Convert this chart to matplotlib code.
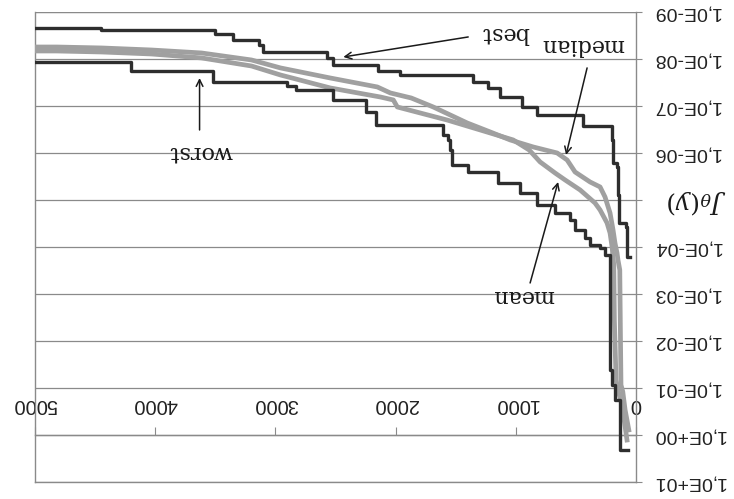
import matplotlib
matplotlib.use("Agg")
import matplotlib.pyplot as plt
from matplotlib.ticker import FixedLocator, NullLocator

plt.rcParams['mathtext.fontset'] = 'dejavuserif'

# ---------------- data ----------------
best_iter = [50, 75, 83, 140, 150, 160, 195, 200, 440, 823, 947, 1130, 1230, 1355,
             1960, 2150, 2520, 2570, 3100, 3140, 3350, 3500, 4455, 5000]
best_J = [1.63e-4, 3.75e-5, 3.08e-5, 7.8e-6, 1.99e-6, 1.63e-6, 5.28e-7, 2.67e-7, 1.55e-7,
          1.05e-7, 6.44e-8, 4.14e-8, 3.08e-8, 2.19e-8, 1.80e-8, 1.34e-8, 9.5e-9, 7.1e-9,
          5.04e-9, 3.94e-9, 2.94e-9, 2.42e-9, 2.16e-9, 2.16e-9]

worst_iter = [70, 133, 175, 200, 215, 220, 258, 300, 380, 425, 507, 550, 673, 823, 964,
              1147, 1396, 1530, 1545, 1563, 1603, 2160, 2243, 2520, 2825, 2900, 3523,
              4205, 5000]
worst_J = [2.08, 0.18, 0.0863, 0.0414, 3.08e-4, 1.48e-4, 1.05e-4, 9.06e-5, 6.44e-5,
           4.35e-5, 2.67e-5, 1.89e-5, 1.28e-5, 7.09e-6, 4.35e-6, 2.54e-6, 1.80e-6,
           8.63e-7, 5.28e-7, 4.14e-7, 2.54e-7, 1.34e-7, 7.45e-8, 4.57e-8, 3.75e-8,
           3.08e-8, 1.80e-8, 1.16e-8, 1.16e-8]

median_iter = [60, 91, 110, 125, 130, 135, 150, 158, 175, 191, 216, 258, 299, 382, 507,
               573, 656, 855, 1047, 1213, 1404, 1687, 1870, 2044, 2152, 2543, 2958, 3199,
               3615, 4030, 4446, 4820, 5000]
median_J = [0.78, 0.29, 0.12, 0.086, 5.8e-3, 3.08e-4, 1.89e-4, 1.34e-4, 8.2e-5, 4.35e-5,
            1.89e-5, 8.6e-6, 5.28e-6, 4.14e-6, 2.54e-6, 1.41e-6, 1.0e-6, 7.45e-7, 5.28e-7,
            3.57e-7, 2.30e-7, 1.05e-7, 6.76e-8, 5.28e-8, 3.94e-8, 2.54e-8, 1.55e-8,
            1.05e-8, 7.45e-9, 6.44e-9, 5.83e-9, 5.56e-9, 5.56e-9]

mean_iter = [75, 116, 150, 166, 180, 185, 199, 216, 241, 299, 341, 465, 590, 673, 798,
             889, 1022, 1296, 1571, 1795, 1986, 2019, 2127, 2543, 2958, 3199, 3615, 4030,
             4446, 4820, 5000]
mean_J = [1.28, 0.23, 0.11, 0.068, 3.57e-3, 2.42e-4, 1.0e-4, 5.04e-5, 3.08e-5, 1.63e-5,
          1.16e-5, 6.12e-6, 3.75e-6, 2.67e-6, 1.55e-6, 8.63e-7, 5.28e-7, 3.24e-7, 1.99e-7,
          1.41e-7, 1.05e-7, 7.45e-8, 6.44e-8, 4.14e-8, 2.19e-8, 1.41e-8, 9.5e-9, 7.83e-9,
          7.1e-9, 6.76e-9, 6.76e-9]

xtick_vals = [0, 1000, 2000, 3000, 4000, 5000]
xtick_labels = ['0', '1000', '2000', '3000', '4000', '5000']
ytick_vals = [1e-9, 1e-8, 1e-7, 1e-6, 1e-5, 1e-4, 1e-3, 1e-2, 1e-1, 1e0, 1e1]
ytick_labels = ['1,0E-09', '1,0E-08', '1,0E-07', '1,0E-06', '', '1,0E-04',
                '1,0E-03', '1,0E-02', '1,0E-01', '1,0E+00', '1,0E+01']
y_label = r'$J_\theta(y)$'

# annotation label, text position, arrow tail, arrow tip (data coords)
annotations = [
    ('best',   (1089, 2.8e-9), (1396, 3.4e-9), (2435, 9.06e-9)),
    ('median', (440, 5.04e-9), (407, 1.55e-8), (582, 1.10e-6)),
    ('mean',   (939, 1.10e-3), (881, 5.83e-4), (648, 4.14e-6)),
    ('worst',  (3623, 9.5e-7), (3631, 3.24e-7), (3631, 2.54e-8)),
]

# ---------------- figure ----------------
fig = plt.figure(figsize=(7.34, 4.99), dpi=100)
ax = fig.add_axes([0.0477, 0.0341, 0.8188, 0.9419])
ax.set_yscale('log')
ax.set_xlim(5000, 0)
ax.set_ylim(10, 1e-9)

grid_col = '#8a8a8a'
ax.yaxis.set_major_locator(FixedLocator(ytick_vals))
ax.yaxis.set_minor_locator(NullLocator())
ax.set_yticklabels(ytick_labels, fontfamily='Liberation Sans')
ax.yaxis.tick_right()
ax.tick_params(axis='y', which='major', direction='out', length=4, pad=8,
               labelsize=14, labelrotation=180, color=grid_col, labelcolor='#222222')
for lbl in ax.get_yticklabels():
    lbl.set_va('center')
ax.grid(axis='y', color=grid_col, lw=0.9)
ax.axhline(1e-9, color=grid_col, lw=0.9)

ax.xaxis.tick_top()
ax.spines['top'].set_position(('data', 1.0))
ax.set_xticks(xtick_vals)
ax.set_xticklabels(xtick_labels, fontfamily='Liberation Sans')
ax.xaxis.set_minor_locator(NullLocator())
ax.tick_params(axis='x', which='major', direction='out', length=6, pad=9,
               labelsize=14.5, labelrotation=180, color=grid_col, labelcolor='#222222')

for side in ['left', 'right', 'top', 'bottom']:
    ax.spines[side].set_color(grid_col)
    ax.spines[side].set_linewidth(1.0)

gray = '#a0a0a0'
dark = '#2e2e2e'
ax.plot(mean_iter, mean_J, color=gray, lw=3.4, zorder=3)
ax.plot(median_iter, median_J, color=gray, lw=3.4, zorder=3)
ax.step(worst_iter, worst_J, where='post', color=dark, lw=2.4, zorder=4)
ax.step(best_iter, best_J, where='post', color=dark, lw=2.4, zorder=4)

for label, tpos, tail, tip in annotations:
    ax.annotate('', xy=tip, xytext=tail,
                arrowprops=dict(arrowstyle='->', color='#1a1a1a', lw=1.1,
                                shrinkA=0, shrinkB=0, mutation_scale=12), zorder=5)
    ax.text(tpos[0], tpos[1], label, rotation=180, rotation_mode='anchor',
            ha='center', va='center', fontsize=16, family='DejaVu Serif',
            color='#1a1a1a', zorder=6)

ax.text(1.10, 0.596, y_label, transform=ax.transAxes, rotation=180,
        rotation_mode='anchor', ha='center', va='center', fontsize=18, color='#1a1a1a')

fig.savefig('out.png', dpi=100, facecolor='white')
